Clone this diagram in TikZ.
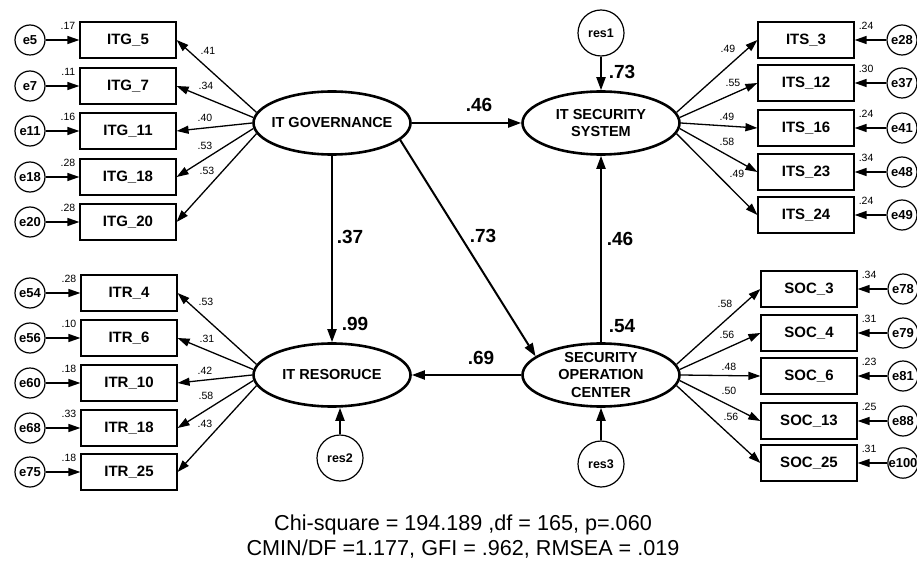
\documentclass[tikz,border=0pt]{standalone}
\usepackage{fontspec}
\setmainfont{Liberation Sans}
\usetikzlibrary{arrows.meta,shapes.geometric}

\begin{document}
\begin{tikzpicture}[
  x=1pt, y=-1pt,
  obs/.style={draw, line width=1.2pt, minimum width=96pt, minimum height=36pt, inner sep=0pt,
    font=\fontsize{15}{18}\selectfont\bfseries},
  lat/.style={ellipse, draw, line width=2.6pt, minimum width=157pt, minimum height=63pt,
    inner sep=-20pt, align=center, font=\fontsize{14.5}{17.5}\selectfont\bfseries},
  err/.style={circle, draw, line width=1.2pt, minimum size=30pt, inner sep=0pt,
    font=\fontsize{13}{15}\selectfont\bfseries},
  res/.style={circle, draw, line width=1.2pt, minimum size=46pt, inner sep=0pt,
    font=\fontsize{12.5}{15}\selectfont\bfseries},
  vlbl/.style={inner sep=0pt, font=\fontsize{10.5}{12}\selectfont},
  coef/.style={inner sep=0pt, font=\fontsize{19}{21}\selectfont\bfseries},
  errarr/.style={-{Triangle[length=12pt,width=8pt]}, line width=1.3pt},
  ldarrow/.style={-{Triangle[length=12pt,width=8pt]}, line width=1.3pt},
  regarr/.style={-{Triangle[length=13pt,width=9pt]}, line width=2pt},
]
\path[use as bounding box, fill=white] (0,0) rectangle (917,577);

\node[lat] (ITG) at (332,123) {IT GOVERNANCE};
\node[lat] (ITS) at (601,123) {IT SECURITY\\SYSTEM};
\node[lat] (ITR) at (332,375) {IT RESORUCE};
\node[lat] (SOC) at (601,375) {SECURITY\\OPERATION\\CENTER};

\node[res] (res1) at (601,33) {res1};
\node[res] (res2) at (340,458) {res2};
\node[res] (res3) at (601,464) {res3};

\draw[regarr] (ITG) -- (ITS);
\draw[regarr] (ITG) -- (ITR);
\draw[regarr] (ITG.-14) -- (SOC.164);
\draw[regarr] (SOC) -- (ITS);
\draw[regarr] (SOC) -- (ITR);
\draw[regarr] (res1) -- (ITS);
\draw[regarr] (res2) -- (res2 |- ITR.south);
\draw[regarr] (res3) -- (SOC);

\node[coef] (c1) at (479,105) {.46};
\node[coef] (c2) at (350,237) {.37};
\node[coef] (c3) at (483,236) {.73};
\node[coef] (c4) at (620,239) {.46};
\node[coef] (c5) at (481,358) {.69};
\node[coef] (r1) at (622,72) {.73};
\node[coef] (r2) at (355,324) {.99};
\node[coef] (r3) at (622,326) {.54};

\foreach \id/\txt/\er/\yy/\vv/\ll/\lx/\ly/\ang in {
  itg5/ITG\_5/e5/40/.17/.41/208/51/172,
  itg7/ITG\_7/e7/86/.11/.34/206/86/176,
  itg11/ITG\_11/e11/131/.16/.40/205/118/180,
  itg18/ITG\_18/e18/177/.28/.53/205/146/184,
  itg20/ITG\_20/e20/222/.28/.53/207/171/188}
{
  \node[obs] (\id) at (128,\yy) {\txt};
  \node[err] (\er) at (30,\yy) {\er};
  \draw[errarr] (\er) -- (\id);
  \node[vlbl, anchor=east] (v\id) at ([xshift=-4pt,yshift=-4pt]\id.north west) {\vv};
  \draw[ldarrow] (ITG.\ang) -- (\id.east);
  \node[vlbl] (l\id) at (\lx,\ly) {\ll};
}

\foreach \id/\txt/\er/\yy/\vv/\ll/\lx/\ly/\ang in {
  itr4/ITR\_4/e54/293/.28/.53/206/302/172,
  itr6/ITR\_6/e56/338/.10/.31/207/339/176,
  itr10/ITR\_10/e60/383/.18/.42/205/371/180,
  itr18/ITR\_18/e68/428/.33/.58/206/396/184,
  itr25/ITR\_25/e75/472/.18/.43/205/424/188}
{
  \node[obs] (\id) at (129,\yy) {\txt};
  \node[err] (\er) at (30,\yy) {\er};
  \draw[errarr] (\er) -- (\id);
  \node[vlbl, anchor=east] (v\id) at ([xshift=-4pt,yshift=-4pt]\id.north west) {\vv};
  \draw[ldarrow] (ITR.\ang) -- (\id.east);
  \node[vlbl] (l\id) at (\lx,\ly) {\ll};
}

\foreach \id/\txt/\er/\yy/\vv/\ll/\lx/\ly/\ang in {
  its3/ITS\_3/e28/40/.24/.49/728/49/8,
  its12/ITS\_12/e37/83/.30/.55/733/83/4,
  its16/ITS\_16/e41/128/.24/.49/727/117/0,
  its23/ITS\_23/e48/172/.34/.58/727/142/-4,
  its24/ITS\_24/e49/215/.24/.49/737/174/-8}
{
  \node[obs] (\id) at (806,\yy) {\txt};
  \node[err] (\er) at (902,\yy) {\er};
  \draw[errarr] (\er) -- (\id);
  \node[vlbl, anchor=west] (v\id) at ([xshift=4pt,yshift=-4pt]\id.north east) {\vv};
  \draw[ldarrow] (ITS.\ang) -- (\id.west);
  \node[vlbl] (l\id) at (\lx,\ly) {\ll};
}

\foreach \id/\txt/\er/\yy/\vv/\ll/\lx/\ly/\ang in {
  soc3/SOC\_3/e78/289/.34/.58/725/304/8,
  soc4/SOC\_4/e79/333/.31/.56/727/335/4,
  soc6/SOC\_6/e81/376/.23/.48/729/367/0,
  soc13/SOC\_13/e88/421/.25/.50/729/391/-4,
  soc25/SOC\_25/e100/463/.31/.56/731/417/-8}
{
  \node[obs] (\id) at (809,\yy) {\txt};
  \node[err] (\er) at (903,\yy) {\er};
  \draw[errarr] (\er) -- (\id);
  \node[vlbl, anchor=west] (v\id) at ([xshift=4pt,yshift=-4pt]\id.north east) {\vv};
  \draw[ldarrow] (SOC.\ang) -- (\id.west);
  \node[vlbl] (l\id) at (\lx,\ly) {\ll};
}

\node[align=center, font=\fontsize{21.6}{25}\selectfont] (fit) at (463,537)
  {Chi-square = 194.189 ,df = 165, p=.060\\CMIN/DF =1.177, GFI = .962, RMSEA = .019};
\end{tikzpicture}
\end{document}
